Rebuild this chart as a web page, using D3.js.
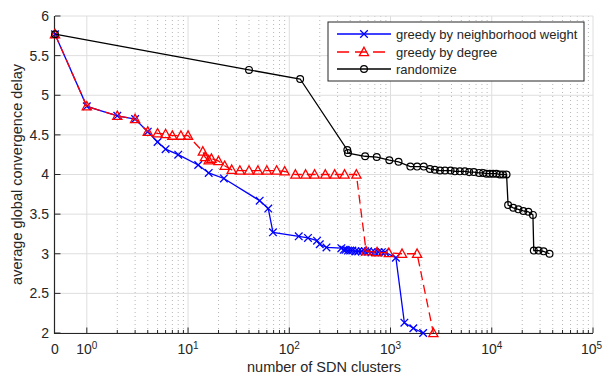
<!DOCTYPE html>
<html>
<head>
<meta charset="utf-8">
<script src="https://cdn.jsdelivr.net/npm/d3@7"></script>
<style>
  body { margin: 0; background: #fff; }
  text { font-family: "Liberation Sans", Arial, sans-serif; fill: #262626; }
</style>
</head>
<body>
<script>
// number of SDN clusters (0 is drawn at the left edge of the log axis)
const weightX = [0, 1, 2, 3, 4, 5, 6, 8, 12.6, 16, 22.6, 51, 62, 69, 124, 153, 188, 200, 233, 327,
    345, 360, 380, 400, 420, 450, 480, 520, 560, 600, 650, 700, 760, 820, 880, 1130, 1370, 1680, 2100];
const weightY = [5.77, 4.86, 4.74, 4.70, 4.54, 4.41, 4.32, 4.25, 4.12, 4.02, 3.95, 3.67, 3.57, 3.27, 3.22, 3.20, 3.165, 3.12, 3.08, 3.07,
    3.05, 3.05, 3.04, 3.04, 3.04, 3.03, 3.03, 3.03, 3.03, 3.03, 3.02, 3.02, 3.02, 3.02, 3.02, 2.95, 2.13, 2.06, 2.0];

const degreeX = [0, 1, 2, 3, 4, 5, 6, 7, 8.5, 10, 14, 14.7, 16, 17, 20, 23, 27, 32.5, 40, 49,
    60, 75, 90, 115, 145, 178, 227, 281, 352, 460, 574, 736, 962, 1300, 1830, 2650];
const degreeY = [5.77, 4.86, 4.74, 4.70, 4.54, 4.52, 4.51, 4.49, 4.49, 4.49, 4.29, 4.22, 4.18, 4.20, 4.17, 4.11, 4.06, 4.05, 4.05, 4.05,
    4.05, 4.05, 4.04, 4.0, 4.0, 4.0, 4.0, 4.0, 4.0, 4.0, 3.03, 3.02, 3.01, 3.0, 3.0, 2.0];

const randomX = [0, 40, 128, 374, 380, 561, 731, 973, 1200, 1570, 1830, 2130, 2450, 2740, 3080, 3450, 3920, 4320, 4840, 5420,
    5980, 6650, 7500, 8210, 8870, 9560, 10300, 11100, 12000, 12900, 14000, 14500, 16300, 18300, 20500, 23000, 25500, 26000, 29000, 32500, 37200];
const randomY = [5.77, 5.32, 5.205, 4.31, 4.27, 4.23, 4.22, 4.18, 4.16, 4.10, 4.10, 4.10, 4.07, 4.06, 4.05, 4.05, 4.05, 4.04, 4.04, 4.04,
    4.03, 4.03, 4.02, 4.02, 4.01, 4.01, 4.01, 4.01, 4.0, 4.0, 4.0, 3.615, 3.58, 3.56, 3.54, 3.53, 3.49, 3.04, 3.04, 3.03, 3.0];

const seriesNames = ["greedy by neighborhood weight", "greedy by degree", "randomize"];
const xDecades = [0, 1, 2, 3, 4, 5];
const yTicks = [2, 2.5, 3, 3.5, 4, 4.5, 5, 5.5, 6];

let width = 604;
let height = 377;
let marginTop = 16;
let marginRight = 11;
let marginBottom = 44;
let marginLeft = 55;

const xMin = 0.485;

window.addEventListener('load', () => {
    draw();
}, false);

function draw() {
    const chartRight = width - marginRight;
    const chartBottom = height - marginBottom;

    const svg = d3.select("body")
        .append("svg")
        .attr("width", width)
        .attr("height", height);

    const xScale = d3.scaleLog()
        .domain([xMin, 1e5])
        .range([marginLeft, chartRight]);
    const yScale = d3.scaleLinear()
        .domain([2, 6])
        .range([chartBottom, marginTop]);
    const sx = (v) => xScale(v === 0 ? xMin : v);

    // minor grid (x only)
    const minors = [];
    xDecades.slice(0, -1).forEach((d) => {
        for (let k = 2; k <= 9; k++) minors.push(k * Math.pow(10, d));
    });
    svg.append("g").selectAll("line")
        .data(minors)
        .join("line")
        .attr("x1", (d) => xScale(d)).attr("x2", (d) => xScale(d))
        .attr("y1", marginTop).attr("y2", chartBottom)
        .attr("stroke", "#b8b8b8")
        .attr("stroke-width", 1)
        .attr("stroke-dasharray", "1,3");

    // major grid
    svg.append("g").selectAll("line")
        .data(xDecades)
        .join("line")
        .attr("x1", (d) => xScale(Math.pow(10, d))).attr("x2", (d) => xScale(Math.pow(10, d)))
        .attr("y1", marginTop).attr("y2", chartBottom)
        .attr("stroke", "#dedede");
    svg.append("g").selectAll("line")
        .data(yTicks)
        .join("line")
        .attr("x1", marginLeft).attr("x2", chartRight)
        .attr("y1", (d) => yScale(d)).attr("y2", (d) => yScale(d))
        .attr("stroke", "#dedede");

    // axes
    const axisColor = "#262626";
    svg.append("line")
        .attr("x1", marginLeft).attr("x2", chartRight)
        .attr("y1", chartBottom + 0.5).attr("y2", chartBottom + 0.5)
        .attr("stroke", axisColor).attr("stroke-width", 1.2);
    svg.append("line")
        .attr("x1", marginLeft - 0.5).attr("x2", marginLeft - 0.5)
        .attr("y1", marginTop).attr("y2", chartBottom + 1)
        .attr("stroke", axisColor).attr("stroke-width", 1.2);

    // x ticks
    svg.append("g").selectAll("line")
        .data(minors)
        .join("line")
        .attr("x1", (d) => xScale(d)).attr("x2", (d) => xScale(d))
        .attr("y1", chartBottom).attr("y2", chartBottom - 3)
        .attr("stroke", axisColor);
    svg.append("g").selectAll("line")
        .data(xDecades)
        .join("line")
        .attr("x1", (d) => xScale(Math.pow(10, d))).attr("x2", (d) => xScale(Math.pow(10, d)))
        .attr("y1", chartBottom).attr("y2", chartBottom - 5.5)
        .attr("stroke", axisColor);
    svg.append("g").selectAll("line")
        .data(yTicks)
        .join("line")
        .attr("x1", marginLeft).attr("x2", marginLeft + 5.5)
        .attr("y1", (d) => yScale(d)).attr("y2", (d) => yScale(d))
        .attr("stroke", axisColor);

    // x tick labels
    svg.append("text")
        .attr("x", xScale(xMin)).attr("y", chartBottom + 21)
        .attr("text-anchor", "middle")
        .attr("font-size", 14)
        .text("0");
    const xl = svg.append("g").selectAll("text")
        .data(xDecades)
        .join("text")
        .attr("x", (d) => xScale(Math.pow(10, d)) - (d === 5 ? 1.5 : 0))
        .attr("y", chartBottom + 21)
        .attr("text-anchor", "middle")
        .attr("font-size", 14);
    xl.append("tspan").text("10");
    xl.append("tspan").attr("dy", -5.5).attr("font-size", 10).text((d) => d);

    // y tick labels
    svg.append("g").selectAll("text")
        .data(yTicks)
        .join("text")
        .attr("x", marginLeft - 6)
        .attr("y", (d) => yScale(d))
        .attr("dy", "0.35em")
        .attr("text-anchor", "end")
        .attr("font-size", 14)
        .text((d) => d);

    // axis labels
    svg.append("text")
        .attr("x", (marginLeft + chartRight) / 2)
        .attr("y", height - 5)
        .attr("text-anchor", "middle")
        .attr("font-size", 14.5)
        .text("number of SDN clusters");
    svg.append("text")
        .attr("transform", "translate(22," + (marginTop + chartBottom) / 2 + ") rotate(-90)")
        .attr("text-anchor", "middle")
        .attr("font-size", 14.5)
        .text("average global convergence delay");

    // series
    const series = [
        { xs: weightX, ys: weightY, color: "#0000ff", dash: null, marker: "x" },
        { xs: degreeX, ys: degreeY, color: "#ff0000", dash: "9,5", marker: "tri" },
        { xs: randomX, ys: randomY, color: "#000000", dash: null, marker: "o" }
    ];

    const line = d3.line()
        .x((d) => sx(d[0]))
        .y((d) => yScale(d[1]));

    series.forEach((s) => {
        const pts = s.xs.map((v, i) => [v, s.ys[i]]);
        svg.append("path")
            .datum(pts)
            .attr("d", line)
            .attr("fill", "none")
            .attr("stroke", s.color)
            .attr("stroke-width", 1.3)
            .attr("stroke-dasharray", s.dash);
        const g = svg.append("g");
        pts.forEach((p) => {
            drawMarker(g, s.marker, sx(p[0]), yScale(p[1]), s.color);
        });
    });

    // legend
    const lx = 328, ly = 22, lw = 256, lh = 59;
    svg.append("rect")
        .attr("x", lx).attr("y", ly)
        .attr("width", lw).attr("height", lh)
        .attr("fill", "#fff")
        .attr("stroke", axisColor)
        .attr("stroke-width", 1);
    const rowY = [34, 52, 69];
    series.forEach((s, i) => {
        svg.append("line")
            .attr("x1", lx + 9).attr("x2", lx + 63)
            .attr("y1", rowY[i]).attr("y2", rowY[i])
            .attr("stroke", s.color)
            .attr("stroke-width", 1.3)
            .attr("stroke-dasharray", s.dash ? "12,6" : null);
        drawMarker(svg, s.marker, lx + 36, rowY[i], s.color);
        svg.append("text")
            .attr("x", lx + 68)
            .attr("y", rowY[i])
            .attr("dy", "0.35em")
            .attr("font-size", 13)
            .text(seriesNames[i]);
    });
}

function drawMarker(g, type, cx, cy, color) {
    if (type === "x") {
        g.append("path")
            .attr("d", "M" + (cx - 3.8) + "," + (cy - 3.8) + "L" + (cx + 3.8) + "," + (cy + 3.8) +
                "M" + (cx - 3.8) + "," + (cy + 3.8) + "L" + (cx + 3.8) + "," + (cy - 3.8))
            .attr("stroke", color)
            .attr("stroke-width", 1.3)
            .attr("fill", "none");
    } else if (type === "tri") {
        g.append("path")
            .attr("d", "M" + cx + "," + (cy - 4.8) + "L" + (cx + 4.6) + "," + (cy + 3.6) +
                "L" + (cx - 4.6) + "," + (cy + 3.6) + "Z")
            .attr("stroke", color)
            .attr("stroke-width", 1.3)
            .attr("fill", "none");
    } else {
        g.append("circle")
            .attr("cx", cx).attr("cy", cy).attr("r", 3.4)
            .attr("stroke", color)
            .attr("stroke-width", 1.2)
            .attr("fill", "none");
    }
}
</script>
</body>
</html>
